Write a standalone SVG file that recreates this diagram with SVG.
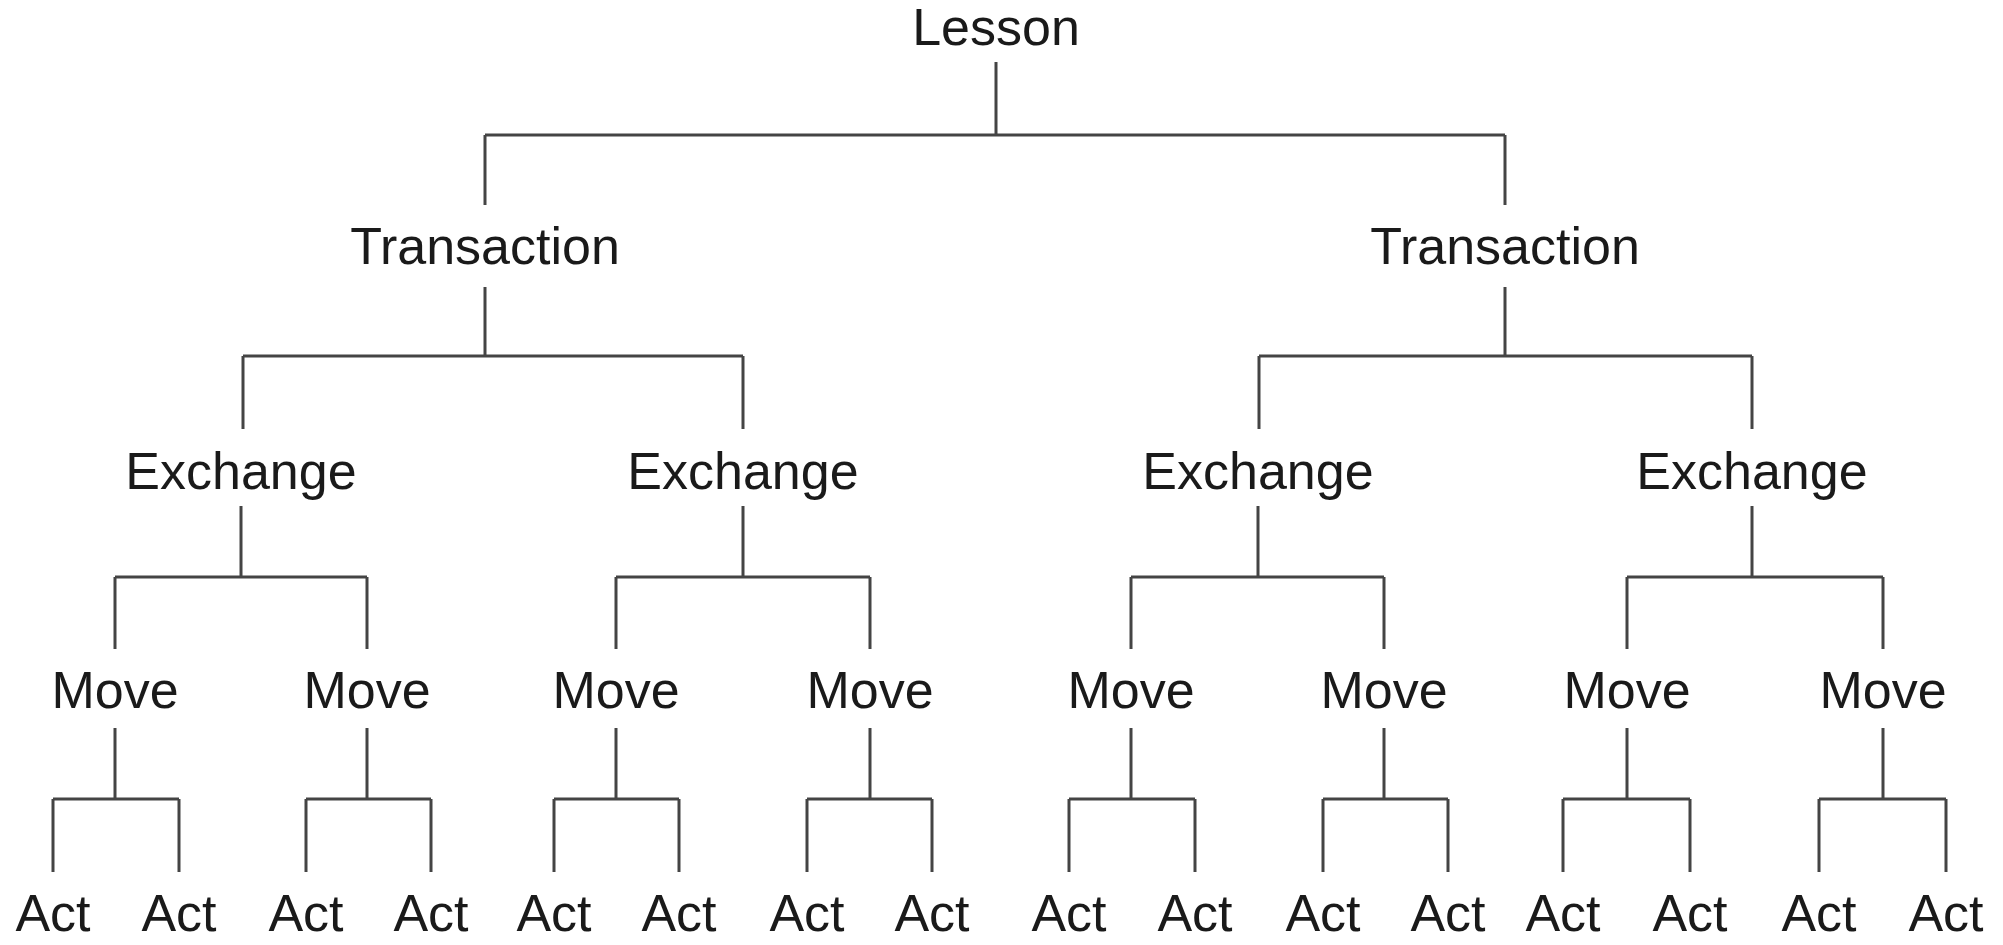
<svg xmlns="http://www.w3.org/2000/svg" width="2003" height="945" viewBox="0 0 2003 945">
<style>
text{font-family:"Liberation Sans",Arial,sans-serif;font-size:52px;fill:#1a1a1a;text-anchor:middle}
.c path{fill:none;stroke:#444;stroke-width:3;stroke-linecap:butt}
</style>
<rect width="2003" height="945" fill="#fff"/>
<g class="c" id="connectors">
<path d="M996 62V135M485 135H1505M485 135V205M1505 135V205"/>
<path d="M485 287V356M243 356H743M243 356V429M743 356V429"/>
<path d="M1505 287V356M1259 356H1752M1259 356V429M1752 356V429"/>
<path d="M241 506V577M115 577H367M115 577V649M367 577V649"/>
<path d="M743 506V577M616 577H870M616 577V649M870 577V649"/>
<path d="M1258 506V577M1131 577H1384M1131 577V649M1384 577V649"/>
<path d="M1752 506V577M1627 577H1883M1627 577V649M1883 577V649"/>
<path d="M115 728V799M53 799H179M53 799V872M179 799V872"/>
<path d="M367 728V799M306 799H431M306 799V872M431 799V872"/>
<path d="M616 728V799M554 799H679M554 799V872M679 799V872"/>
<path d="M870 728V799M807 799H932M807 799V872M932 799V872"/>
<path d="M1131 728V799M1069 799H1195M1069 799V872M1195 799V872"/>
<path d="M1384 728V799M1323 799H1448M1323 799V872M1448 799V872"/>
<path d="M1627 728V799M1563 799H1690M1563 799V872M1690 799V872"/>
<path d="M1883 728V799M1819 799H1946M1819 799V872M1946 799V872"/>
</g>
<g id="lesson"><text x="996" y="45">Lesson</text></g>
<g id="transaction1"><text x="485" y="264">Transaction</text></g>
<g id="transaction2"><text x="1505" y="264">Transaction</text></g>
<g id="exchange1"><text x="241" y="489">Exchange</text></g>
<g id="exchange2"><text x="743" y="489">Exchange</text></g>
<g id="exchange3"><text x="1258" y="489">Exchange</text></g>
<g id="exchange4"><text x="1752" y="489">Exchange</text></g>
<g id="move1"><text x="115" y="708">Move</text></g>
<g id="move2"><text x="367" y="708">Move</text></g>
<g id="move3"><text x="616" y="708">Move</text></g>
<g id="move4"><text x="870" y="708">Move</text></g>
<g id="move5"><text x="1131" y="708">Move</text></g>
<g id="move6"><text x="1384" y="708">Move</text></g>
<g id="move7"><text x="1627" y="708">Move</text></g>
<g id="move8"><text x="1883" y="708">Move</text></g>
<g id="act1"><text x="53" y="931">Act</text></g>
<g id="act2"><text x="179" y="931">Act</text></g>
<g id="act3"><text x="306" y="931">Act</text></g>
<g id="act4"><text x="431" y="931">Act</text></g>
<g id="act5"><text x="554" y="931">Act</text></g>
<g id="act6"><text x="679" y="931">Act</text></g>
<g id="act7"><text x="807" y="931">Act</text></g>
<g id="act8"><text x="932" y="931">Act</text></g>
<g id="act9"><text x="1069" y="931">Act</text></g>
<g id="act10"><text x="1195" y="931">Act</text></g>
<g id="act11"><text x="1323" y="931">Act</text></g>
<g id="act12"><text x="1448" y="931">Act</text></g>
<g id="act13"><text x="1563" y="931">Act</text></g>
<g id="act14"><text x="1690" y="931">Act</text></g>
<g id="act15"><text x="1819" y="931">Act</text></g>
<g id="act16"><text x="1946" y="931">Act</text></g>
</svg>
